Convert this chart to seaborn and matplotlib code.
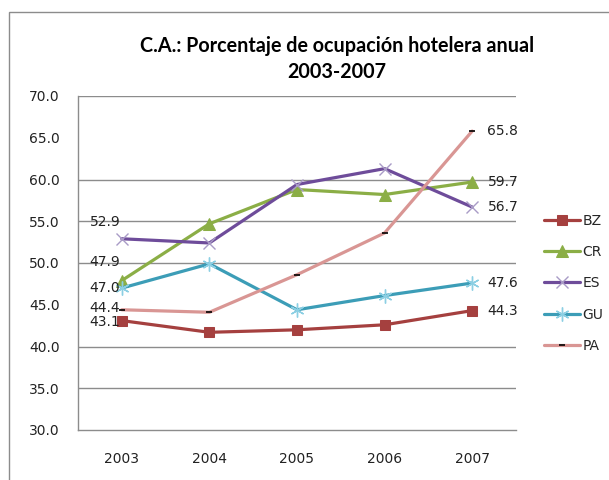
import matplotlib
matplotlib.use("Agg")
import matplotlib.pyplot as plt
import seaborn as sns
import pandas as pd
from matplotlib.patches import Rectangle

years = ["2003", "2004", "2005", "2006", "2007"]
bz = [43.1, 41.7, 42.0, 42.6, 44.3]
cr = [47.9, 54.7, 58.8, 58.2, 59.7]
es = [52.9, 52.4, 59.4, 61.3, 56.7]
gu = [47.0, 49.9, 44.4, 46.1, 47.6]
pa = [44.4, 44.1, 48.6, 53.6, 65.8]
series_names = ["BZ", "CR", "ES", "GU", "PA"]
series_vals = [bz, cr, es, gu, pa]
yticks = [30, 35, 40, 45, 50, 55, 60, 65, 70]
title = "C.A.: Porcentaje de ocupación hotelera anual\n2003-2007"

sns.set_theme(style="white")
plt.rcParams['font.family'] = ['DejaVu Sans']

colors = {"BZ": "#A5403F", "CR": "#8BAE46", "ES": "#6E4C9A", "GU": "#3C9DB7", "PA": "#D99694"}
styles = {
    "BZ": dict(marker="s", markersize=7, markerfacecolor="#A5403F", markeredgecolor="#A5403F", linewidth=2.3),
    "CR": dict(marker="^", markersize=8, markerfacecolor="#8BAE46", markeredgecolor="#8BAE46", linewidth=2.3),
    "ES": dict(marker="x", markersize=9, markeredgecolor="#A99BC6", markeredgewidth=1.0, linewidth=2.3),
    "GU": dict(marker=(6, 2, 0), markersize=10, markeredgecolor="#8CCFE3", markeredgewidth=1.0, linewidth=2.3),
    "PA": dict(marker="_", markersize=5, markeredgecolor="#000000", markeredgewidth=1.2, linewidth=2.3),
}

fig = plt.figure(figsize=(6.09, 4.80), dpi=100)
ax = fig.add_axes([78/609, 1-430/480, (516-78)/609, (430-96)/480])

df = pd.DataFrame({"year": years * len(series_names),
                   "value": sum(series_vals, []),
                   "serie": [n for n in series_names for _ in years]})

for name in series_names:
    sub = df[df["serie"] == name]
    sns.lineplot(data=sub, x="year", y="value", ax=ax, color=colors[name],
                 label=name, sort=False, **styles[name])

ax.set_xlim(-0.5, 4.5)
ax.set_ylim(30, 70)
ax.set_yticks(yticks)
ax.set_yticklabels([f"{v:.1f}" for v in yticks])
ax.set_xlabel("")
ax.set_ylabel("")
# gridlines as they appear in the reference picture
for g in [35, 40, 50, 55, 60, 70]:
    ax.axhline(g, color="#8C8C8C", linewidth=1.0, zorder=0)
for s in ["top", "right"]:
    ax.spines[s].set_visible(False)
for s in ["left", "bottom"]:
    ax.spines[s].set_color("#8C8C8C")
    ax.spines[s].set_linewidth(1.0)
ax.tick_params(axis="y", length=0, pad=13, labelsize=10, labelcolor="#222222")
ax.tick_params(axis="x", length=0, pad=16, labelsize=10, labelcolor="#222222")

# data labels
left_offsets = {"BZ": (0, -1), "CR": (0, 13), "ES": (0, 12), "GU": (0, 0), "PA": (0, 1)}
for name, vals in zip(series_names, series_vals):
    dx, dy = left_offsets[name]
    ax.annotate(f"{vals[0]:.1f}", xy=(0, vals[0]), xytext=(-1 + dx, dy),
                textcoords="offset points", ha="right", va="center",
                fontsize=10, color="#222222", annotation_clip=False)
    ax.annotate(f"{vals[-1]:.1f}", xy=(4, vals[-1]), xytext=(11, 0),
                textcoords="offset points", ha="left", va="center",
                fontsize=10, color="#222222", annotation_clip=False)

leg = ax.legend(loc="upper left", bbox_to_anchor=(538/609, 1-208/480),
                bbox_transform=fig.transFigure, frameon=False, fontsize=10,
                labelspacing=1.25, handlelength=2.6, handletextpad=0.2,
                borderaxespad=0)

fig.text(337/609, 1-59/480, title, ha="center", va="center", fontsize=14.2,
         fontweight="bold", family=["Lato", "DejaVu Sans"], linespacing=1.4,
         color="#000000")

fig.patches.append(Rectangle((9/609, -0.1), 1.2, 1.1 - 12/480,
                             transform=fig.transFigure, fill=False,
                             edgecolor="#8C8C8C", linewidth=1.0))

fig.savefig("out.png", dpi=100, facecolor="white")
